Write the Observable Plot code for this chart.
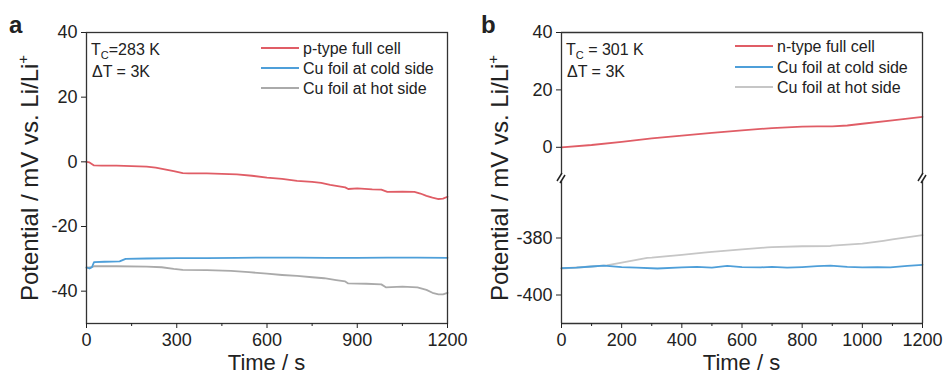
<!DOCTYPE html>
<html><head><meta charset="utf-8">
<script src="https://cdn.jsdelivr.net/npm/d3@7"></script>
<script src="https://cdn.jsdelivr.net/npm/@observablehq/plot@0.6"></script>
<style>
body{margin:0;background:#fff;}
#wrap{display:flex;width:944px;height:374px;overflow:hidden;}
.panel{position:relative;width:472px;height:374px;}
.panel svg{position:absolute;left:0;top:0;}
svg{font-family:"Liberation Sans",Arial,sans-serif;}
</style></head><body><div id="wrap"></div>
<script>
// ---- Panel a data ----
const aRedT = [0, 10, 25, 50, 100, 150, 200, 230, 260, 290, 320, 340, 400, 450, 500, 550, 600, 650, 700, 750, 780, 810, 840, 860, 870, 900, 950, 980, 1000, 1050, 1090, 1110, 1130, 1150, 1170, 1185, 1200];
const aRedV = [0, -0.2, -1.1, -1.2, -1.2, -1.3, -1.5, -1.8, -2.3, -2.9, -3.5, -3.6, -3.6, -3.7, -3.9, -4.3, -4.9, -5.3, -5.9, -6.2, -6.5, -7.1, -7.6, -7.9, -8.4, -8.2, -8.5, -8.6, -9.3, -9.2, -9.3, -9.8, -10.5, -11.1, -11.5, -11.4, -10.8];
const aBlueT = [0, 10, 18, 25, 60, 110, 120, 130, 200, 300, 400, 500, 600, 700, 800, 900, 1000, 1100, 1200];
const aBlueV = [-32.6, -33.0, -32.6, -31.0, -30.9, -30.8, -30.4, -30.0, -29.9, -29.8, -29.8, -29.7, -29.6, -29.6, -29.7, -29.7, -29.6, -29.6, -29.7];
const aGrayT = [0, 15, 25, 100, 200, 250, 290, 320, 400, 480, 540, 600, 650, 700, 750, 790, 830, 860, 870, 930, 980, 995, 1050, 1100, 1130, 1150, 1170, 1185, 1200];
const aGrayV = [-32.8, -32.6, -32.3, -32.3, -32.4, -32.6, -33.1, -33.4, -33.5, -33.7, -34.1, -34.6, -35.0, -35.3, -35.7, -36.0, -36.6, -37.0, -37.6, -37.7, -37.9, -38.8, -38.6, -38.8, -39.6, -40.5, -41.0, -41.0, -40.5];
const aXTicks = [0, 300, 600, 900, 1200];
const aXMinor = [150, 450, 750, 1050];
const aYTicks = [-40, -20, 0, 20, 40];
const aSeries = ["p-type full cell", "Cu foil at cold side", "Cu foil at hot side"];

// ---- Panel b data (broken y axis: upper segment -10..40, lower -410..-360) ----
const bRedT = [0, 100, 200, 300, 400, 500, 600, 700, 800, 850, 900, 950, 1000, 1100, 1200];
const bRedV = [0, 0.8, 1.9, 3.1, 4.1, 5.0, 5.9, 6.7, 7.2, 7.3, 7.3, 7.6, 8.2, 9.4, 10.6];
const bBlueT = [0, 50, 100, 141, 200, 250, 319, 400, 450, 500, 551, 600, 662, 700, 750, 800, 850, 894, 950, 1000, 1050, 1093, 1150, 1200];
const bBlueV = [-390.6, -390.4, -390.0, -389.7, -390.2, -390.4, -390.7, -390.3, -390.1, -390.4, -389.8, -390.2, -390.3, -390.1, -390.4, -390.2, -389.9, -389.7, -390.1, -390.3, -390.2, -390.3, -389.8, -389.4];
const bGrayT = [0, 100, 150, 200, 285, 300, 400, 473, 500, 600, 684, 700, 800, 894, 900, 1000, 1070, 1100, 1200];
const bGrayV = [-390.7, -390.0, -389.6, -388.6, -387.0, -386.9, -385.9, -385.1, -384.9, -384.0, -383.3, -383.2, -382.9, -382.8, -382.7, -382.0, -381.0, -380.5, -379.0];
const bXTicks = [0, 200, 400, 600, 800, 1000, 1200];
const bXMinor = [100, 300, 500, 700, 900, 1100];
const bYTicksUpper = [0, 20, 40];
const bYTicksLower = [-400, -380];
const bUpperDomain = [-10, 40];
const bLowerDomain = [-410, -360];
const bSeries = ["n-type full cell", "Cu foil at cold side", "Cu foil at hot side"];

const RED = "#e05d66", BLUE = "#4e9fd9", GRAY_A = "#aaaaaa", GRAY_B = "#c6c6c6";
const INK = "#222", FRAME = "#333";
const FONT = '"Liberation Sans", Arial, sans-serif';

function rows(T, V) { return T.map((t, i) => ({t, v: V[i]})); }

function segment(cfg) {
  const marks = [];
  cfg.lines.forEach(l => marks.push(Plot.line(rows(l.T, l.V), {x: "t", y: "v", stroke: l.color, strokeWidth: 1.8})));
  if (cfg.full) marks.push(Plot.frame({stroke: FRAME, strokeWidth: 1.3}));
  else {
    marks.push(Plot.ruleX([0, 1200], {stroke: FRAME, strokeWidth: 1.3}));
    if (cfg.topEdge !== undefined) marks.push(Plot.ruleY([cfg.topEdge], {stroke: FRAME, strokeWidth: 1.3}));
    if (cfg.bottomEdge !== undefined) marks.push(Plot.ruleY([cfg.bottomEdge], {stroke: FRAME, strokeWidth: 1.3}));
  }
  if (cfg.xTicks) {
    marks.push(Plot.axisX({ticks: cfg.xTicks, tickSize: 5, tickPadding: 5, label: null, fontSize: 18, tickFormat: d => String(d)}));
    marks.push(Plot.axisX({ticks: cfg.xMinor, tickSize: 3, label: null, tickFormat: () => ""}));
  }
  marks.push(Plot.axisY({ticks: cfg.yTicks, tickSize: 5, tickPadding: 4, label: null, fontSize: 18, tickFormat: d => String(d)}));
  return Plot.plot({
    width: 472, height: 374,
    marginLeft: cfg.ml, marginRight: cfg.mr, marginTop: cfg.mt, marginBottom: cfg.mb,
    style: {fontFamily: FONT, fontSize: "18px", color: INK, background: cfg.bg, overflow: "visible"},
    x: {domain: [0, 1200], axis: null},
    y: {domain: cfg.ydomain, axis: null},
    marks
  });
}

function decorate(plot, cfg) {
  const svg = d3.select(plot);
  const g = svg.append("g").attr("fill", INK).attr("font-family", FONT).attr("text-anchor", "start");
  g.append("text").attr("x", 9).attr("y", 33).attr("font-size", 24).attr("font-weight", "bold").text(cfg.letter);
  const yl = g.append("text").attr("transform", `translate(${cfg.ylx},178) rotate(-90)`).attr("text-anchor", "middle").attr("font-size", 24);
  yl.append("tspan").text("Potential / mV vs. Li/Li");
  yl.append("tspan").attr("font-size", 15).attr("dy", -10).text("+");
  const xc = (cfg.ml + 472 - cfg.mr) / 2;
  g.append("text").attr("x", xc).attr("y", 370).attr("text-anchor", "middle").attr("font-size", 22).text("Time / s");
  const t1 = g.append("text").attr("x", cfg.ml + 5).attr("y", 55).attr("font-size", 16);
  t1.append("tspan").text("T");
  t1.append("tspan").attr("font-size", 11).attr("dy", 4).text("C");
  t1.append("tspan").attr("dy", -4).text(cfg.tc);
  g.append("text").attr("x", cfg.ml + 6).attr("y", 77).attr("font-size", 16).text("\u0394T = 3K");
  const cols = [RED, BLUE, cfg.gray];
  cfg.series.forEach((s, i) => {
    const yy = cfg.legY[i];
    g.append("line").attr("x1", cfg.legX).attr("x2", cfg.legX + 38).attr("y1", yy).attr("y2", yy).attr("stroke", cols[i]).attr("stroke-width", 1.8);
    g.append("text").attr("x", cfg.legX + 42).attr("y", yy + 6).attr("font-size", 16).text(s);
  });
}

const wrap = document.getElementById("wrap");

// Panel a
const pa = document.createElement("div"); pa.className = "panel"; wrap.appendChild(pa);
const plotA = segment({
  ml: 86, mr: 25, mt: 32, mb: 51, bg: "white", full: true, ydomain: [-50, 40], yTicks: aYTicks,
  xTicks: aXTicks, xMinor: aXMinor,
  lines: [{T: aGrayT, V: aGrayV, color: GRAY_A}, {T: aBlueT, V: aBlueV, color: BLUE}, {T: aRedT, V: aRedV, color: RED}]
});
pa.appendChild(plotA);
decorate(plotA, {letter: "a", ml: 86, mr: 25, ylx: 38, gray: GRAY_A, series: aSeries, tc: "=283 K", legX: 261, legY: [48, 68, 88]});

// Panel b
const pb = document.createElement("div"); pb.className = "panel"; wrap.appendChild(pb);
const BML = 89, BMR = 22, UPPER_BOTTOM = 175.5, LOWER_TOP = 180.5;
const plotBL = segment({
  ml: BML, mr: BMR, mt: LOWER_TOP, mb: 51, bg: "white", full: false, ydomain: bLowerDomain, yTicks: bYTicksLower,
  bottomEdge: bLowerDomain[0], xTicks: bXTicks, xMinor: bXMinor,
  lines: [{T: bGrayT, V: bGrayV, color: GRAY_B}, {T: bBlueT, V: bBlueV, color: BLUE}]
});
const plotBU = segment({
  ml: BML, mr: BMR, mt: 32, mb: 374 - UPPER_BOTTOM, bg: "transparent", full: false, ydomain: bUpperDomain, yTicks: bYTicksUpper,
  topEdge: bUpperDomain[1],
  lines: [{T: bRedT, V: bRedV, color: RED}]
});
pb.appendChild(plotBL);
pb.appendChild(plotBU);
decorate(plotBU, {letter: "b", ml: BML, mr: BMR, ylx: 36, gray: GRAY_B, series: bSeries, tc: " = 301 K", legX: 263, legY: [46, 67, 87]});
// axis-break symbols between the two segments
{
  const yb = (plotBU.scale("y").apply(bUpperDomain[0]) + plotBL.scale("y").apply(bLowerDomain[1])) / 2;
  const svg = d3.select(plotBU);
  [plotBU.scale("x").apply(0), plotBU.scale("x").apply(1200)].forEach(xb => {
    const bg = svg.append("g");
    bg.append("polygon").attr("points", `${xb-4},${yb+3} ${xb+1},${yb-5} ${xb+4},${yb-3} ${xb-1},${yb+5}`).attr("fill", "white");
    bg.append("line").attr("x1", xb-4).attr("y1", yb+3).attr("x2", xb+1).attr("y2", yb-5).attr("stroke", INK).attr("stroke-width", 1.5);
    bg.append("line").attr("x1", xb-1).attr("y1", yb+5).attr("x2", xb+4).attr("y2", yb-3).attr("stroke", INK).attr("stroke-width", 1.5);
  });
}
</script></body></html>
